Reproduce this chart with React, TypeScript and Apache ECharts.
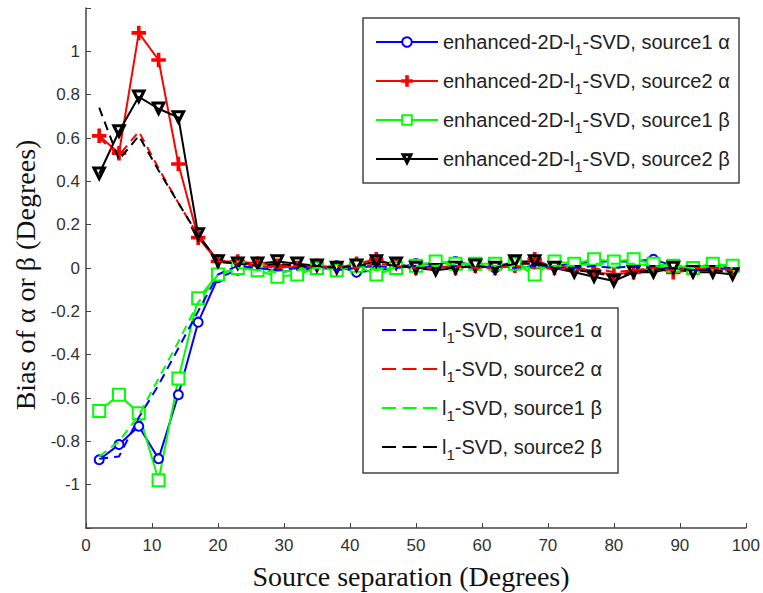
import React, { useEffect, useRef } from 'react';
import * as echarts from 'echarts';

// Source separation (degrees)
const separation = [2, 5, 8, 11, 14, 17, 20, 23, 26, 29, 32, 35, 38, 41, 44, 47, 50, 53, 56, 59, 62, 65, 68, 71, 74, 77, 80, 83, 86, 89, 92, 95, 98];

// enhanced-2D-l1-SVD
const enhS1Alpha = [-0.885, -0.815, -0.73, -0.88, -0.585, -0.25, -0.045, -0.01, 0.01, -0.02, -0.01, 0.0, 0.01, -0.02, -0.01, 0.0, 0.02, 0.02, 0.03, 0.01, 0.0, 0.01, 0.0, 0.01, 0.02, 0.03, 0.03, 0.03, 0.04, 0.01, 0.0, 0.01, 0.0];
const enhS2Alpha = [0.61, 0.53, 1.085, 0.96, 0.48, 0.14, 0.03, 0.03, 0.02, 0.01, 0.0, 0.01, 0.0, 0.02, 0.04, 0.01, 0.0, 0.01, 0.0, 0.01, 0.0, 0.01, 0.04, 0.0, 0.01, -0.02, -0.03, -0.02, 0.0, -0.02, -0.01, 0.0, -0.01];
const enhS1Beta = [-0.66, -0.585, -0.67, -0.98, -0.51, -0.14, -0.03, 0.0, -0.01, -0.04, -0.03, 0.0, -0.01, 0.01, -0.03, 0.0, 0.01, 0.03, 0.02, 0.02, 0.02, 0.02, -0.03, 0.03, 0.02, 0.04, 0.03, 0.04, 0.02, 0.01, 0.0, 0.02, 0.01];
const enhS2Beta = [0.435, 0.63, 0.79, 0.735, 0.695, 0.155, 0.03, 0.02, 0.02, 0.03, 0.02, 0.01, 0.0, 0.01, 0.03, 0.02, 0.0, -0.01, 0.0, 0.01, 0.0, 0.03, 0.03, 0.0, -0.02, -0.04, -0.06, -0.02, -0.02, 0.0, -0.02, -0.02, -0.03];

// l1-SVD
const l1S1Alpha = [-0.88, -0.87, -0.69, -0.54, -0.37, -0.2, -0.03, 0.01, 0.0, -0.01, 0.0, 0.01, -0.01, 0.0, 0.01, 0.0, 0.01, 0.0, 0.01, 0.0, 0.01, 0.0, 0.01, 0.0, 0.0, 0.01, 0.0, 0.01, 0.0, 0.0, -0.01, 0.0, 0.0];
const l1S2Alpha = [0.6, 0.52, 0.63, 0.46, 0.3, 0.15, 0.03, 0.02, 0.01, 0.0, 0.01, 0.0, 0.01, 0.0, 0.02, 0.01, 0.0, 0.0, 0.01, 0.0, 0.0, 0.01, 0.0, 0.0, -0.01, 0.0, -0.02, -0.01, 0.0, -0.01, 0.0, 0.0, -0.01];
const l1S1Beta = [-0.87, -0.8, -0.68, -0.51, -0.34, -0.16, -0.03, 0.0, -0.01, -0.02, -0.01, 0.0, 0.0, 0.01, -0.01, 0.0, 0.01, 0.01, 0.02, 0.01, 0.01, 0.01, 0.0, 0.01, 0.01, 0.02, 0.02, 0.02, 0.01, 0.0, 0.0, 0.01, 0.0];
const l1S2Beta = [0.74, 0.5, 0.61, 0.45, 0.3, 0.15, 0.03, 0.02, 0.01, 0.02, 0.01, 0.01, 0.0, 0.01, 0.02, 0.01, 0.0, 0.0, 0.0, 0.01, 0.0, 0.02, 0.02, 0.0, -0.01, -0.02, -0.04, -0.02, -0.01, 0.0, -0.01, -0.01, -0.02];

const enhNames = [
  'enhanced-2D-l1-SVD, source1 α',
  'enhanced-2D-l1-SVD, source2 α',
  'enhanced-2D-l1-SVD, source1 β',
  'enhanced-2D-l1-SVD, source2 β',
];
const l1Names = [
  'l1-SVD, source1 α',
  'l1-SVD, source2 α',
  'l1-SVD, source1 β',
  'l1-SVD, source2 β',
];

const SANS = '"Liberation Sans", Arial, sans-serif';
const SERIF = '"Liberation Serif", "Times New Roman", serif';

const CROSS = 'path://M5,0 h2 v5 h5 v2 h-5 v5 h-2 v-5 h-5 v-2 h5 z';
const TRI_DOWN = 'path://M0,0 L12,0 L6,11 Z M2.4,1.3 L6,7.9 L9.6,1.3 Z';
const DASH_ICON = 'path://M0,0 h14 v2 h-14 z M20.5,0 h14 v2 h-14 z M41,0 h14 v2 h-14 z';

const pairs = (ys: number[]) => separation.map((x, i) => [x, ys[i]]);

export default function App() {
  const ref = useRef<HTMLDivElement>(null);
  useEffect(() => {
    if (!ref.current) return;
    const chart = echarts.init(ref.current, undefined, { renderer: 'svg' });

    const solid = (name: string, data: number[], color: string, symbol: string, size: number) => ({
      name,
      type: 'line',
      data: pairs(data),
      symbol,
      symbolSize: size,
      showSymbol: true,
      lineStyle: { color, width: 2 },
      itemStyle: { color, borderColor: color, borderWidth: 1.5 },
      z: 2,
    });
    const dashed = (name: string, data: number[], color: string) => ({
      name,
      type: 'line',
      data: pairs(data),
      symbol: 'none',
      lineStyle: { color, width: 2, type: [9, 6] },
      itemStyle: { color },
      z: 3,
    });

    const legendText = {
      fontSize: 20,
      lineHeight: 30,
      fontFamily: SANS,
      color: '#222',
      rich: {
        sub: { fontSize: 15, lineHeight: 15, verticalAlign: 'bottom', fontFamily: SANS, color: '#222' },
      },
    };
    const fmt = (n: string) => n.replace('l1-SVD', 'l{sub|1}-SVD');

    chart.setOption({
      animation: false,
      backgroundColor: '#fff',
      grid: { left: 86, right: 16, top: 8, bottom: 65, containLabel: false },
      xAxis: {
        type: 'value',
        min: 0,
        max: 100,
        interval: 10,
        axisLine: { show: true, onZero: false, lineStyle: { color: '#444', width: 1.5 } },
        axisTick: { show: true, inside: true, length: 5, lineStyle: { color: '#444' } },
        axisLabel: { fontSize: 17, fontFamily: SANS, color: '#333', margin: 9 },
        splitLine: { show: false },
      },
      yAxis: {
        type: 'value',
        min: -1.2,
        max: 1.2,
        interval: 0.2,
        axisLine: { show: true, onZero: false, lineStyle: { color: '#444', width: 1.5 } },
        axisTick: { show: true, inside: true, length: 5, lineStyle: { color: '#444' } },
        axisLabel: {
          fontSize: 17,
          fontFamily: SANS,
          color: '#333',
          margin: 6,
          formatter: (v: number) => (Math.abs(Math.abs(v) - 1.2) < 1e-6 ? '' : String(Number(v.toFixed(1)))),
        },
        splitLine: { show: false },
      },
      legend: [
        {
          data: enhNames,
          orient: 'vertical',
          left: 375,
          top: 27,
          padding: 0,
          itemWidth: 62,
          itemHeight: 12,
          itemGap: 9,
          selectedMode: false,
          formatter: fmt,
          textStyle: legendText,
          z: 6,
        },
        {
          data: l1Names.map((name) => ({ name, icon: DASH_ICON })),
          orient: 'vertical',
          left: 382,
          top: 315,
          padding: 0,
          itemWidth: 55,
          itemHeight: 2,
          itemGap: 9,
          selectedMode: false,
          formatter: fmt,
          textStyle: legendText,
          z: 6,
        },
      ],
      graphic: [
        { type: 'rect', shape: { x: 363, y: 18, width: 376, height: 165 }, style: { fill: '#fff', stroke: '#444', lineWidth: 1.5 }, z: 5 },
        { type: 'rect', shape: { x: 363, y: 308, width: 255, height: 165 }, style: { fill: '#fff', stroke: '#444', lineWidth: 1.5 }, z: 5 },
        {
          type: 'text',
          x: 411,
          y: 576,
          style: { text: 'Source separation (Degrees)', font: `28px ${SERIF}`, fill: '#111', align: 'center', verticalAlign: 'middle' },
          z: 6,
        },
        {
          type: 'text',
          x: 25,
          y: 275,
          rotation: Math.PI / 2,
          style: { text: 'Bias of α or β (Degrees)', font: `28px ${SERIF}`, fill: '#111', align: 'center', verticalAlign: 'middle' },
          z: 6,
        },
      ],
      series: [
        solid(enhNames[0], enhS1Alpha, '#0000ff', 'emptyCircle', 9),
        solid(enhNames[1], enhS2Alpha, '#ff0000', CROSS, 13),
        solid(enhNames[2], enhS1Beta, '#00ff00', 'emptyRect', 12),
        solid(enhNames[3], enhS2Beta, '#000000', TRI_DOWN, 13),
        dashed(l1Names[0], l1S1Alpha, '#0000ff'),
        dashed(l1Names[1], l1S2Alpha, '#ff0000'),
        dashed(l1Names[2], l1S1Beta, '#00ff00'),
        dashed(l1Names[3], l1S2Beta, '#000000'),
      ],
    });
    return () => chart.dispose();
  }, []);
  return <div ref={ref} style={{ position: 'fixed', left: 0, top: 0, width: 763, height: 593 }} />;
}
